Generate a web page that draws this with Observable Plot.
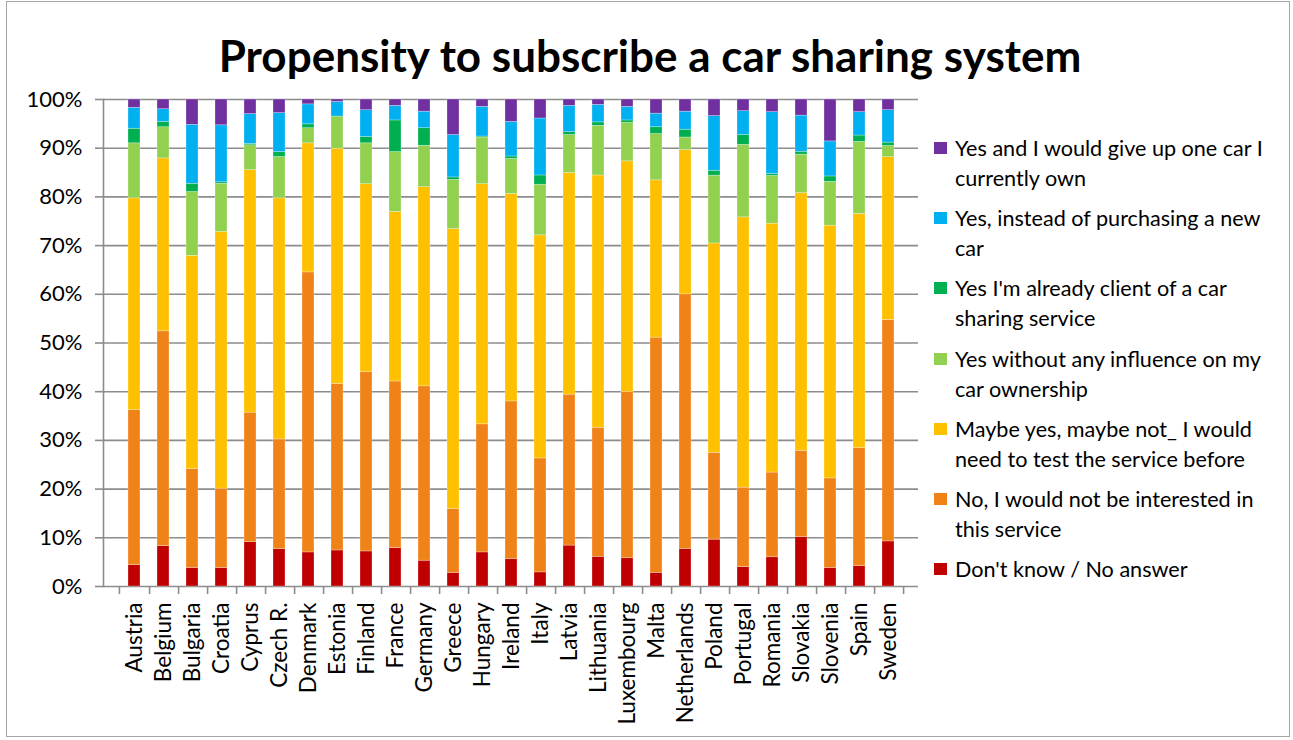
<!DOCTYPE html>
<html>
<head>
<meta charset="utf-8">
<script src="https://cdn.jsdelivr.net/npm/d3@7"></script>
<script src="https://cdn.jsdelivr.net/npm/@observablehq/plot@0.6"></script>
<style>
  html, body { margin: 0; padding: 0; background: #fff; }
  #wrap { position: relative; width: 1293px; height: 740px; overflow: hidden; font-family: Lato, sans-serif; color: #000; }
  #border { position: absolute; left: 6px; top: 1px; width: 1284px; height: 736px; border: 1px solid #a6a6a6; box-sizing: border-box; }
  #title { position: absolute; left: 0; top: 33px; width: 1300px; text-align: center; font-weight: bold; font-size: 44px; line-height: 1; white-space: nowrap; }
  #chart { position: absolute; left: 0; top: 0; }
  .item { position: absolute; left: 934px; font-size: 21.6px; line-height: 30px; white-space: nowrap; }
  .sw { position: absolute; left: 0; top: 9px; width: 13px; height: 12px; }
  .lbl { position: absolute; left: 21px; top: 0; }
</style>
</head>
<body>
<div id="wrap">
  <div id="border"></div>
  <div id="title">Propensity to subscribe a car sharing system</div>
  <div id="chart"></div>
  <div id="legend"></div>
</div>
<script>
const countries = ["Austria","Belgium","Bulgaria","Croatia","Cyprus","Czech R.","Denmark","Estonia","Finland","France","Germany","Greece","Hungary","Ireland","Italy","Latvia","Lithuania","Luxembourg","Malta","Netherlands","Poland","Portugal","Romania","Slovakia","Slovenia","Spain","Sweden"];

// stack order bottom -> top
const categories = [
  "Don't know / No answer",
  "No, I would not be interested in this service",
  "Maybe yes, maybe not_ I would need to test the service before",
  "Yes without any influence on my car ownership",
  "Yes I'm already client of a car sharing service",
  "Yes, instead of purchasing a new car",
  "Yes and I would give up one car I currently own"
];
// legend labels as wrapped in the original
const legendLines = [
  ["Don't know / No answer"],
  ["No, I would not be interested in", "this service"],
  ["Maybe yes, maybe not_ I would", "need to test the service before"],
  ["Yes without any influence on my", "car ownership"],
  ["Yes I'm already client of a car", "sharing service"],
  ["Yes, instead of purchasing a new", "car"],
  ["Yes and I would give up one car I", "currently own"]
];
const colors = ["#C00000","#EF8318","#FFC000","#92D050","#00B050","#00B0F0","#7030A0"];

const dontKnow   = [4.4,8.3,3.8,3.8,9.1,7.7,7.0,7.4,7.2,7.9,5.3,2.8,7.0,5.6,2.9,8.4,6.1,5.8,2.8,7.7,9.6,4.0,6.0,10.1,3.8,4.2,9.3];
const notInterested = [31.8,44.1,20.3,16.3,26.6,22.5,57.5,34.2,36.8,34.2,35.8,13.1,26.3,32.4,23.4,31.0,26.5,34.1,48.3,52.3,17.8,16.3,17.4,17.7,18.4,24.2,45.7];
const maybe      = [43.5,35.5,43.8,52.7,49.8,49.5,26.5,48.3,38.6,34.8,40.9,57.5,49.3,42.6,45.8,45.5,51.8,47.4,32.3,29.6,42.9,55.5,51.1,52.8,51.9,48.1,33.6];
const noInfluence = [11.3,6.4,13.1,9.9,5.1,8.5,3.1,6.6,8.4,12.3,8.5,10.1,9.6,7.2,10.4,7.8,10.2,7.9,9.5,2.6,13.9,14.9,9.8,7.9,9.0,14.8,2.3];
const alreadyClient = [3.0,1.1,1.7,0.3,0.3,1.0,0.8,0.0,1.3,6.5,3.6,0.5,0.2,0.5,1.9,0.6,0.7,0.5,1.4,1.6,1.0,2.0,0.4,0.6,1.1,1.3,0.7];
const insteadNew = [4.3,2.6,12.1,11.7,6.1,8.0,4.1,3.0,5.5,3.0,3.4,8.7,6.1,7.1,11.7,5.4,3.6,2.8,2.8,3.7,11.2,4.9,12.7,7.4,7.2,4.8,6.7];
const giveUpCar  = [1.7,2.0,5.2,5.3,3.0,2.8,1.0,0.5,2.2,1.3,2.5,7.3,1.5,4.6,3.9,1.3,1.1,1.5,2.9,2.5,3.4,2.4,2.6,3.3,8.6,2.6,2.2];

const seriesValues = [dontKnow, notInterested, maybe, noInfluence, alreadyClient, insteadNew, giveUpCar];
const yTicks = [0,0.1,0.2,0.3,0.4,0.5,0.6,0.7,0.8,0.9,1];

const rows = countries.flatMap((c, i) => categories.map((k, j) => ({country: c, category: k, value: seriesValues[j][i]})));

const W = 930, H = 740, mL = 103, mR = 12, mT = 99, mB = 154;
const step = (W - mL - mR) / countries.length;
const axisColor = "#8c8c8c";

const plot = Plot.plot({
  width: W, height: H,
  marginTop: mT, marginLeft: mL, marginRight: mR, marginBottom: mB,
  x: {domain: countries, padding: 0.6, label: null},
  y: {domain: [0, 1], label: null},
  color: {domain: categories, range: colors},
  style: {fontFamily: "Lato, sans-serif", fontSize: "22px", color: "#000", background: "transparent", overflow: "visible"},
  marks: [
    Plot.gridY(yTicks, {stroke: axisColor, strokeOpacity: 1, strokeWidth: 1.6}),
    Plot.barY(rows, {x: "country", y: "value", fill: "category", order: categories, offset: "normalize", stroke: "#fff", strokeOpacity: 0.45, strokeWidth: 0.6}),
    Plot.axisY(yTicks, {tickSize: 8, tickPadding: 13, tickFormat: d3.format(".0%"), stroke: axisColor, strokeWidth: 1.6, fill: "#000", fontSize: 22, label: null}),
    Plot.frame({anchor: "left", stroke: axisColor, strokeWidth: 1.6}),
    Plot.axisX({tickSize: 0, tickRotate: -90, tickPadding: 16, fontSize: 22.5, fill: "#000", label: null}),
    Plot.axisX({tickSize: 8, tickFormat: () => "", dx: step / 2, stroke: axisColor, strokeWidth: 1.6, label: null}),
    Plot.axisX({ticks: [countries[0]], tickSize: 8, tickFormat: () => "", dx: -step / 2, stroke: axisColor, strokeWidth: 1.6, label: null})
  ]
});
document.getElementById("chart").appendChild(plot);

// legend (top item = last category)
const legend = document.getElementById("legend");
const order = categories.map((_, j) => j).reverse();
order.forEach((j, i) => {
  const item = document.createElement("div");
  item.className = "item";
  item.style.top = (133 + i * 70.2) + "px";
  const sw = document.createElement("div");
  sw.className = "sw";
  sw.style.background = colors[j];
  const lbl = document.createElement("div");
  lbl.className = "lbl";
  lbl.innerHTML = legendLines[j].map(s => s.replace(/&/g, "&amp;").replace(/</g, "&lt;")).join("<br>");
  item.appendChild(sw);
  item.appendChild(lbl);
  legend.appendChild(item);
});
</script>
</body>
</html>
